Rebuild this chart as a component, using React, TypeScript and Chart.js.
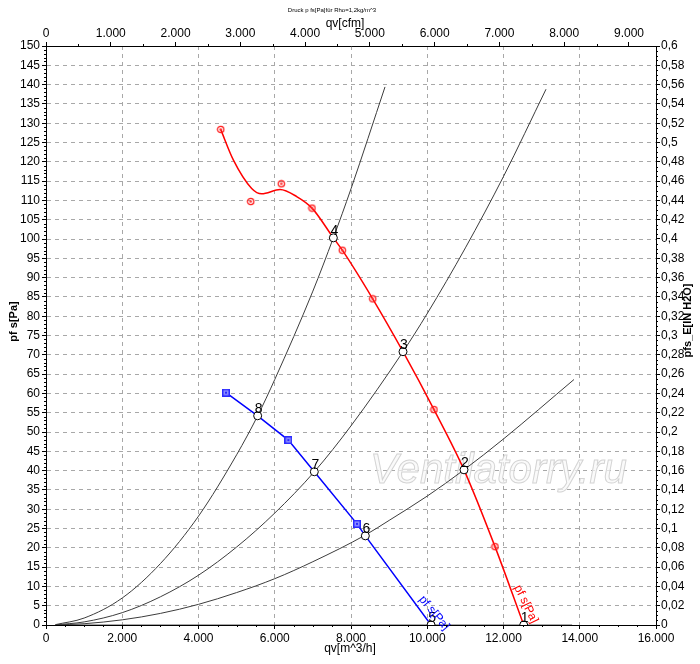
import React, { useEffect, useRef } from "react";
import { Chart, registerables } from "chart.js";
Chart.register(...registerables);

const FONT = "'Liberation Sans', Arial, Helvetica, sans-serif";

// ---- data (qv in m^3/h, pressure in Pa) ----
const redCurveQ = [4582, 4913, 5395, 5657, 6138, 6575, 6977, 7537, 7772, 8569, 9364, 10177, 10964, 11777, 12530];
const redCurveP = [128.4, 120.5, 113.1, 111.7, 112.8, 111.0, 108.0, 100.3, 97.1, 84.5, 70.8, 55.8, 40.2, 20.3, 0];
const redMarkQ = [4582, 5369, 6172, 6977, 7772, 8569, 10177, 11777];
const redMarkP = [128.4, 109.7, 114.3, 108.0, 97.1, 84.5, 55.8, 20.3];

const blueCurveQ = [4721, 5552, 6356, 7038, 8157, 8376, 10100];
const blueCurveP = [60.2, 54.2, 47.9, 39.7, 26.2, 23.1, 0];
const blueMarkQ = [4721, 6356, 8157];
const blueMarkP = [60.2, 47.9, 26.2];

const opLabels = ["1", "2", "3", "4", "5", "6", "7", "8"];
const opQ = [12530, 10964, 9364, 7537, 10100, 8376, 7038, 5552];
const opP = [0, 40.2, 70.8, 100.3, 0, 23.1, 39.7, 54.2];

const sysAQ = [250, 1000, 2000, 3000, 4000, 5000, 5552, 6000, 7000, 7537, 8000, 8892];
const sysAP = [0.1, 1.8, 7.0, 15.9, 28.2, 44.1, 54.2, 63.6, 86.5, 100.3, 113.0, 139.4];
const sysBQ = [250, 1000, 2000, 3000, 4000, 5000, 6000, 7038, 8000, 9364, 10000, 11000, 12000, 13115];
const sysBP = [0.05, 0.8, 3.2, 7.3, 12.9, 20.2, 29.0, 39.7, 51.6, 70.8, 80.7, 97.7, 116.2, 138.8];
const sysCQ = [250, 1000, 2000, 3000, 4000, 5000, 6000, 7000, 8376, 9000, 10000, 10964, 12000, 13849];
const sysCP = [0.02, 0.33, 1.34, 3.0, 5.35, 8.4, 12.0, 16.4, 23.3, 27.1, 33.4, 40.2, 48.2, 63.6];
const sysDQ = [250, 13800];
const sysDP = [0, 0];

// axes
const qMax = 16000;
const qStep = 2000;
const pMax = 150;
const pStep = 5;
const M3H_PER_CFM = 1.699;
const cfmTicks = [0, 1000, 2000, 3000, 4000, 5000, 6000, 7000, 8000, 9000];
const cfmStep = 1000;
const inH2OMax = 0.6;
const inH2OStep = 0.02;

// texts
const chartTitle = "Druck p fs[Pa]für Rho=1,2kg/m^3";
const xTitle = "qv[m^3/h]";
const x2Title = "qv[cfm]";
const yTitle = "pf s[Pa]";
const y2Title = "pfs_E[IN H2O]";
const curveLabel = "pf s[Pa]";
const watermark = "Ventilatorry.ru";

const pts = (xs: number[], ys: number[]) => xs.map((x, i) => ({ x, y: ys[i] }));
const thousands = (v: number) => String(Math.round(v)).replace(/\B(?=(\d{3})+(?!\d))/g, ".");
const decComma = (v: number) => {
  let s = v.toFixed(2);
  s = s.replace(/0+$/, "").replace(/\.$/, "");
  return s.replace(".", ",");
};

function makeRedMarker() {
  const c = document.createElement("canvas");
  c.width = 9; c.height = 9;
  const g = c.getContext("2d")!;
  g.strokeStyle = "#ff1a1a"; g.lineWidth = 1.2;
  g.beginPath(); g.arc(4.5, 4.5, 3.2, 0, Math.PI * 2); g.stroke();
  g.fillStyle = "#ff3030";
  g.beginPath(); g.arc(4.5, 4.5, 1.3, 0, Math.PI * 2); g.fill();
  return c;
}
function makeBlueMarker() {
  const c = document.createElement("canvas");
  c.width = 8; c.height = 8;
  const g = c.getContext("2d")!;
  g.fillStyle = "#2a2aff"; g.fillRect(0, 0, 8, 8);
  g.fillStyle = "#8c8cff"; g.fillRect(1.5, 1.5, 5, 5);
  g.fillStyle = "#2a2aff"; g.fillRect(3, 3, 2, 2);
  return c;
}

const minorTicksPlugin = {
  id: "minorTicks",
  afterDraw(chart: any) {
    const ctx = chart.ctx;
    const a = chart.chartArea;
    ctx.save();
    ctx.strokeStyle = "#000";
    ctx.lineWidth = 1;
    const run = (id: string, step: number, major: number, len: number) => {
      const s = chart.scales[id];
      const n = Math.floor(s.max / step + 1e-6);
      for (let i = 0; i <= n; i++) {
        const v = i * step;
        const r = v / major;
        if (Math.abs(r - Math.round(r)) < 1e-6) continue;
        const p = Math.round(s.getPixelForValue(v)) + 0.5;
        ctx.beginPath();
        if (id === "y") { ctx.moveTo(a.left, p); ctx.lineTo(a.left - len, p); }
        else if (id === "y2") { ctx.moveTo(a.right, p); ctx.lineTo(a.right + len, p); }
        else if (id === "x") { ctx.moveTo(p, a.bottom); ctx.lineTo(p, a.bottom + len); }
        else { ctx.moveTo(p, a.top); ctx.lineTo(p, a.top - len); }
        ctx.stroke();
      }
    };
    run("y", 1, pStep, 2);
    run("y2", 0.005, inH2OStep, 2);
    run("x", 500, qStep, 2);
    run("x2", 500, cfmStep, 2);
    ctx.restore();
  },
};

const annotationPlugin = {
  id: "annotations",
  beforeDatasetsDraw(chart: any) {
    const ctx = chart.ctx;
    const xs = chart.scales.x, ys = chart.scales.y;
    ctx.save();
    ctx.font = `italic 42px ${FONT}`;
    ctx.textAlign = "left";
    ctx.textBaseline = "alphabetic";
    ctx.fillStyle = "rgba(248,248,248,0.7)";
    ctx.strokeStyle = "#d4d4d4";
    ctx.lineWidth = 1;
    const wx = xs.getPixelForValue(8500), wy = ys.getPixelForValue(36.8);
    ctx.fillText(watermark, wx, wy);
    ctx.strokeText(watermark, wx, wy);
    ctx.restore();
  },
  afterDatasetsDraw(chart: any) {
    const ctx = chart.ctx;
    const xs = chart.scales.x, ys = chart.scales.y;
    ctx.save();
    ctx.font = `14px ${FONT}`;
    ctx.fillStyle = "#000";
    ctx.textAlign = "center";
    ctx.textBaseline = "alphabetic";
    opLabels.forEach((lab, i) => {
      const px = xs.getPixelForValue(opQ[i]);
      const py = ys.getPixelForValue(opP[i]);
      ctx.fillText(lab, px + 1, py - 3);
    });
    const rot = (text: string, q: number, p: number, deg: number, color: string) => {
      ctx.save();
      ctx.translate(xs.getPixelForValue(q), ys.getPixelForValue(p));
      ctx.rotate((deg * Math.PI) / 180);
      ctx.font = `12px ${FONT}`;
      ctx.fillStyle = color;
      ctx.textAlign = "center";
      ctx.textBaseline = "middle";
      ctx.fillText(text, 0, 0);
      ctx.restore();
    };
    rot(curveLabel, 10177, 3.1, 50, "#0000ff");
    rot(curveLabel, 12590, 5.4, 64, "#ff0000");
    ctx.restore();
  },
  afterDraw(chart: any) {
    const ctx = chart.ctx;
    const a = chart.chartArea;
    const cx = (a.left + a.right) / 2;
    ctx.save();
    ctx.fillStyle = "#000";
    ctx.textAlign = "center";
    ctx.textBaseline = "middle";
    ctx.font = `6px ${FONT}`;
    ctx.fillText(chartTitle, cx - 19, a.top - 36);
    ctx.font = `12px ${FONT}`;
    ctx.fillText(x2Title, cx - 6, a.top - 22);
    ctx.fillText(xTitle, cx - 1, a.bottom + 24);
    ctx.font = `bold 11px ${FONT}`;
    ctx.save();
    ctx.translate(a.left - 32, (a.top + a.bottom) / 2 - 14);
    ctx.rotate(-Math.PI / 2);
    ctx.fillText(yTitle, 0, 0);
    ctx.restore();
    ctx.save();
    ctx.translate(a.right + 32, (a.top + a.bottom) / 2 - 15);
    ctx.rotate(-Math.PI / 2);
    ctx.fillText(y2Title, 0, 0);
    ctx.restore();
    ctx.restore();
  },
};

export default function App() {
  const ref = useRef<HTMLCanvasElement | null>(null);
  useEffect(() => {
    if (!ref.current) return;
    Chart.defaults.font.family = FONT;
    const redMarker = makeRedMarker();
    const blueMarker = makeBlueMarker();
    const sysStyle = {
      showLine: true, borderColor: "#3c3c3c", borderWidth: 1, pointRadius: 0,
      cubicInterpolationMode: "monotone" as const, order: 4,
    };
    const chart = new Chart(ref.current, {
      type: "scatter",
      data: {
        datasets: [
          { ...sysStyle, data: pts(sysAQ, sysAP) },
          { ...sysStyle, data: pts(sysBQ, sysBP) },
          { ...sysStyle, data: pts(sysCQ, sysCP) },
          { ...sysStyle, data: pts(sysDQ, sysDP), borderColor: "#555" },
          {
            data: pts(redCurveQ, redCurveP), showLine: true, borderColor: "#ff0000",
            borderWidth: 1.5, pointRadius: 0, cubicInterpolationMode: "monotone", order: 3,
          },
          {
            data: pts(blueCurveQ, blueCurveP), showLine: true, borderColor: "#0000ff",
            borderWidth: 1.5, pointRadius: 0, tension: 0, order: 3,
          },
          { data: pts(redMarkQ, redMarkP), showLine: false, pointStyle: redMarker as any, pointRadius: 4, order: 2 },
          { data: pts(blueMarkQ, blueMarkP), showLine: false, pointStyle: blueMarker as any, pointRadius: 4, order: 2 },
          {
            data: pts(opQ, opP), showLine: false, pointStyle: "circle", pointRadius: 4,
            borderColor: "#000", borderWidth: 1, backgroundColor: "#fff", order: 1, clip: 0 as any,
          },
        ],
      },
      options: {
        animation: false,
        responsive: false,
        maintainAspectRatio: false,
        events: [],
        layout: { padding: 0 },
        plugins: { legend: { display: false }, tooltip: { enabled: false }, title: { display: false } },
        scales: {
          x: {
            type: "linear", position: "bottom", min: 0, max: qMax,
            ticks: { stepSize: qStep, autoSkip: false, maxRotation: 0, color: "#000", font: { size: 12 }, padding: 2, callback: (v: any) => thousands(Number(v)) },
            grid: { color: "#a8a8a8", tickLength: 4, tickColor: "#000" },
            border: { color: "#000", width: 1, dash: [4, 4] },
            afterFit: (s: any) => { s.height = 39; },
          },
          x2: {
            type: "linear", position: "top", min: 0, max: qMax / M3H_PER_CFM,
            afterBuildTicks: (s: any) => { s.ticks = cfmTicks.map((v) => ({ value: v })); },
            ticks: { autoSkip: false, maxRotation: 0, color: "#000", font: { size: 12 }, padding: 1, callback: (v: any) => thousands(Number(v)) },
            grid: { drawOnChartArea: false, tickLength: 4, tickColor: "#000" },
            border: { color: "#000", width: 1 },
            afterFit: (s: any) => { s.height = 46; },
          },
          y: {
            type: "linear", position: "left", min: 0, max: pMax,
            ticks: { stepSize: pStep, autoSkip: false, color: "#000", font: { size: 12 }, padding: 2 },
            grid: { color: "#a8a8a8", tickLength: 4, tickColor: "#000" },
            border: { color: "#000", width: 1, dash: [4, 4] },
            afterFit: (s: any) => { s.width = 46; },
          },
          y2: {
            type: "linear", position: "right", min: 0, max: inH2OMax,
            ticks: { stepSize: inH2OStep, autoSkip: false, color: "#000", font: { size: 12 }, padding: 1, callback: (v: any) => decComma(Number(v)) },
            grid: { drawOnChartArea: false, tickLength: 4, tickColor: "#000" },
            border: { color: "#000", width: 1 },
            afterFit: (s: any) => { s.width = 44; },
          },
        },
      },
      plugins: [annotationPlugin, minorTicksPlugin],
    } as any);
    return () => chart.destroy();
  }, []);
  return (
    <div style={{ position: "absolute", left: 0, top: 0, width: 700, height: 664, background: "#fff" }}>
      <canvas ref={ref} width={700} height={664} style={{ width: 700, height: 664, display: "block" }} />
    </div>
  );
}
